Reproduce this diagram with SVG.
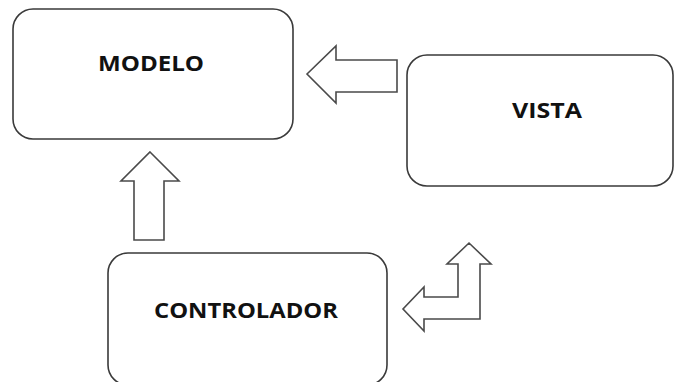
<svg xmlns="http://www.w3.org/2000/svg" width="676" height="382" viewBox="0 0 676 382">
<style>
.box{fill:#fff;stroke:#3a3a3a;stroke-width:1.6}
.arr{fill:#fff;stroke:#4a4a4a;stroke-width:1.6;stroke-linejoin:miter}
.lbl{font-family:"Open Sans","Liberation Sans",sans-serif;font-weight:700;font-size:21px;fill:#111;text-anchor:start}
</style>
<rect width="676" height="382" fill="#fff"/>
<g id="modelo">
<rect class="box" x="13" y="9" width="280" height="130" rx="20"/>
<text class="lbl" x="98" y="71" textLength="106" lengthAdjust="spacingAndGlyphs">MODELO</text>
</g>
<g id="vista">
<rect class="box" x="407" y="55" width="266" height="131" rx="20"/>
<text class="lbl" x="512" y="118" textLength="70" lengthAdjust="spacingAndGlyphs">VISTA</text>
</g>
<g id="controlador">
<rect class="box" x="108" y="253" width="279" height="132" rx="20"/>
<text class="lbl" x="154" y="318" textLength="184" lengthAdjust="spacingAndGlyphs">CONTROLADOR</text>
</g>
<g id="connectors">
<polygon class="arr" points="307,74 336,46 336,60 397,60 397,92 336,92 336,103"/>
<polygon class="arr" points="150,152 179,181 164,181 164,240 134,240 134,181 121,181"/>
<polygon class="arr" points="469,243 491,264 480,264 480,319 424,319 424,331 403,309 424,287 424,297 458,297 458,264 447,264"/>
</g>
</svg>
